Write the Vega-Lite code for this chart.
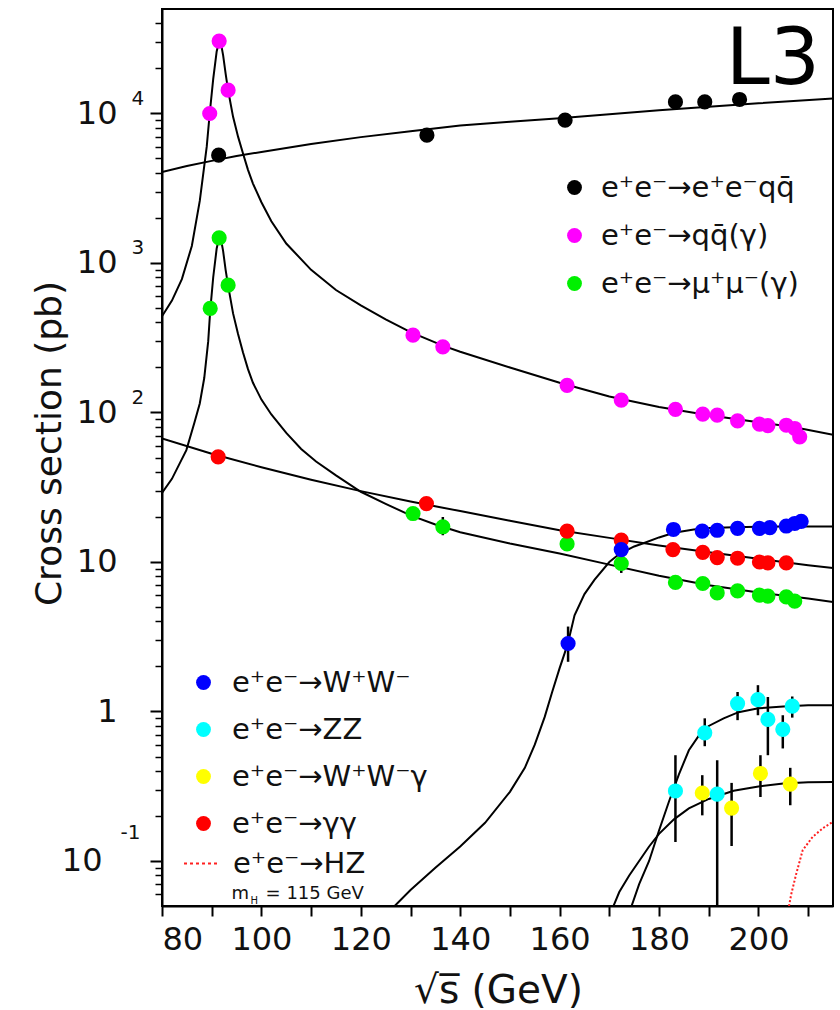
{
  "$schema": "https://vega.github.io/schema/vega-lite/v6.json",
  "width": 671,
  "height": 897,
  "autosize": {"type": "none"},
  "padding": {"left": 162, "top": 9, "right": 7, "bottom": 104},
  "background": "white",
  "config": {
    "font": "DejaVu Sans",
    "view": {"stroke": "black", "strokeWidth": 2},
    "axis": {"grid": false, "domainColor": "black", "domainWidth": 2, "tickColor": "black", "labelColor": "#111", "titleColor": "#111", "labelFont": "DejaVu Sans", "titleFont": "DejaVu Sans", "titleFontWeight": "normal"},
    "legend": {"labelFont": "DejaVu Sans", "labelFontSize": 29, "labelColor": "#111", "labelLimit": 500, "padding": 0}
  },
  "datasets": {
    "curves": [
      {"s":"ee","x":80,"y":4060},{"s":"ee","x":85,"y":4450},{"s":"ee","x":90,"y":4820},{"s":"ee","x":95,"y":5200},{"s":"ee","x":100,"y":5530},{"s":"ee","x":110,"y":6250},{"s":"ee","x":120,"y":6950},{"s":"ee","x":130,"y":7600},{"s":"ee","x":140,"y":8300},{"s":"ee","x":150,"y":8800},{"s":"ee","x":160,"y":9300},{"s":"ee","x":170,"y":9900},{"s":"ee","x":180,"y":10500},{"s":"ee","x":190,"y":11100},{"s":"ee","x":200,"y":11700},{"s":"ee","x":215,"y":12600},
      {"s":"qq","x":80,"y":440},{"s":"qq","x":82,"y":560},{"s":"qq","x":84,"y":780},{"s":"qq","x":86,"y":1300},{"s":"qq","x":87.6,"y":2600},{"s":"qq","x":89,"y":6000},{"s":"qq","x":89.6,"y":10000},{"s":"qq","x":90.3,"y":17000},{"s":"qq","x":91,"y":26000},{"s":"qq","x":91.5,"y":30500},{"s":"qq","x":91.9,"y":29000},{"s":"qq","x":92.3,"y":24500},{"s":"qq","x":92.8,"y":18500},{"s":"qq","x":93.3,"y":14300},{"s":"qq","x":94.3,"y":9500},{"s":"qq","x":95.3,"y":7000},{"s":"qq","x":96.3,"y":5400},{"s":"qq","x":97.3,"y":4200},{"s":"qq","x":98.3,"y":3400},{"s":"qq","x":100,"y":2550},{"s":"qq","x":102,"y":1900},{"s":"qq","x":105,"y":1350},{"s":"qq","x":110,"y":900},{"s":"qq","x":115,"y":660},{"s":"qq","x":120,"y":520},{"s":"qq","x":125,"y":420},{"s":"qq","x":130,"y":345},{"s":"qq","x":136.5,"y":280},{"s":"qq","x":140,"y":255},{"s":"qq","x":150,"y":200},{"s":"qq","x":160,"y":158},{"s":"qq","x":170,"y":128},{"s":"qq","x":180,"y":109},{"s":"qq","x":190,"y":96},{"s":"qq","x":200,"y":86},{"s":"qq","x":207,"y":80},{"s":"qq","x":215,"y":71},
      {"s":"mm","x":80,"y":29},{"s":"mm","x":82,"y":36},{"s":"mm","x":84.9,"y":56},{"s":"mm","x":86.5,"y":85},{"s":"mm","x":87.6,"y":115},{"s":"mm","x":88.5,"y":170},{"s":"mm","x":89.3,"y":300},{"s":"mm","x":89.7,"y":480},{"s":"mm","x":90.3,"y":800},{"s":"mm","x":91,"y":1250},{"s":"mm","x":91.5,"y":1480},{"s":"mm","x":91.9,"y":1420},{"s":"mm","x":92.3,"y":1200},{"s":"mm","x":92.8,"y":900},{"s":"mm","x":93.3,"y":705},{"s":"mm","x":94.3,"y":460},{"s":"mm","x":95.3,"y":335},{"s":"mm","x":96.3,"y":252},{"s":"mm","x":97.3,"y":195},{"s":"mm","x":98.3,"y":158},{"s":"mm","x":100,"y":122},{"s":"mm","x":102,"y":97},{"s":"mm","x":105,"y":73},{"s":"mm","x":108,"y":57},{"s":"mm","x":111,"y":47},{"s":"mm","x":115,"y":38},{"s":"mm","x":120,"y":29.5},{"s":"mm","x":125,"y":24.5},{"s":"mm","x":130,"y":20.5},{"s":"mm","x":135,"y":17.8},{"s":"mm","x":140,"y":15.8},{"s":"mm","x":150,"y":13.3},{"s":"mm","x":160,"y":11.4},{"s":"mm","x":170,"y":9.6},{"s":"mm","x":180,"y":8.1},{"s":"mm","x":190,"y":7.0},{"s":"mm","x":200,"y":6.25},{"s":"mm","x":210,"y":5.7},{"s":"mm","x":215,"y":5.4},
      {"s":"gg","x":80,"y":67},{"s":"gg","x":90,"y":53},{"s":"gg","x":100,"y":43},{"s":"gg","x":110,"y":35.5},{"s":"gg","x":120,"y":29.8},{"s":"gg","x":130,"y":25.4},{"s":"gg","x":140,"y":21.9},{"s":"gg","x":150,"y":18.9},{"s":"gg","x":160,"y":16.3},{"s":"gg","x":170,"y":14.5},{"s":"gg","x":180,"y":12.9},{"s":"gg","x":190,"y":11.6},{"s":"gg","x":200,"y":10.5},{"s":"gg","x":210,"y":9.5},{"s":"gg","x":215,"y":9.1},
      {"s":"WW","x":126,"y":0.047},{"s":"WW","x":130,"y":0.064},{"s":"WW","x":135,"y":0.09},{"s":"WW","x":140,"y":0.125},{"s":"WW","x":145,"y":0.18},{"s":"WW","x":150,"y":0.29},{"s":"WW","x":153,"y":0.42},{"s":"WW","x":155,"y":0.6},{"s":"WW","x":157,"y":0.92},{"s":"WW","x":158.5,"y":1.35},{"s":"WW","x":160,"y":1.95},{"s":"WW","x":161,"y":2.45},{"s":"WW","x":161.7,"y":2.9},{"s":"WW","x":163,"y":4.4},{"s":"WW","x":165,"y":6.1},{"s":"WW","x":167,"y":7.6},{"s":"WW","x":170,"y":10.0},{"s":"WW","x":172,"y":11.3},{"s":"WW","x":175,"y":12.7},{"s":"WW","x":177,"y":13.4},{"s":"WW","x":180,"y":14.6},{"s":"WW","x":183,"y":15.7},{"s":"WW","x":187,"y":16.5},{"s":"WW","x":190,"y":16.9},{"s":"WW","x":195,"y":17.1},{"s":"WW","x":200,"y":17.2},{"s":"WW","x":205,"y":17.3},{"s":"WW","x":215,"y":17.3},
      {"s":"ZZ","x":174,"y":0.045},{"s":"ZZ","x":176,"y":0.07},{"s":"ZZ","x":178,"y":0.1},{"s":"ZZ","x":180,"y":0.16},{"s":"ZZ","x":182,"y":0.25},{"s":"ZZ","x":184,"y":0.38},{"s":"ZZ","x":186,"y":0.55},{"s":"ZZ","x":188,"y":0.69},{"s":"ZZ","x":190,"y":0.8},{"s":"ZZ","x":193,"y":0.9},{"s":"ZZ","x":196,"y":0.99},{"s":"ZZ","x":200,"y":1.05},{"s":"ZZ","x":205,"y":1.08},{"s":"ZZ","x":210,"y":1.1},{"s":"ZZ","x":215,"y":1.1},
      {"s":"WWg","x":170.5,"y":0.047},{"s":"WWg","x":172,"y":0.062},{"s":"WWg","x":174,"y":0.08},{"s":"WWg","x":176,"y":0.1},{"s":"WWg","x":178,"y":0.125},{"s":"WWg","x":180,"y":0.152},{"s":"WWg","x":183,"y":0.19},{"s":"WWg","x":186,"y":0.225},{"s":"WWg","x":190,"y":0.26},{"s":"WWg","x":195,"y":0.295},{"s":"WWg","x":200,"y":0.315},{"s":"WWg","x":205,"y":0.33},{"s":"WWg","x":210,"y":0.336},{"s":"WWg","x":215,"y":0.338},
      {"s":"HZ","x":206,"y":0.047},{"s":"HZ","x":206.6,"y":0.06},{"s":"HZ","x":207.6,"y":0.082},{"s":"HZ","x":208.9,"y":0.118},{"s":"HZ","x":210.9,"y":0.145},{"s":"HZ","x":213,"y":0.166},{"s":"HZ","x":215,"y":0.183}
    ],
    "pts": [
      {"p":"ee","g":"A","x":91.4,"y":5260},{"p":"ee","g":"A","x":133.3,"y":7160},{"p":"ee","g":"A","x":161.1,"y":9020},{"p":"ee","g":"A","x":183.3,"y":11960},{"p":"ee","g":"A","x":189.2,"y":11960},{"p":"ee","g":"A","x":196.2,"y":12410},
      {"p":"qq","g":"A","x":89.6,"y":10000},{"p":"qq","g":"A","x":91.5,"y":30500},{"p":"qq","g":"A","x":93.3,"y":14330},{"p":"qq","g":"A","x":130.5,"y":329},{"p":"qq","g":"A","x":136.5,"y":275},{"p":"qq","g":"A","x":161.5,"y":152},{"p":"qq","g":"A","x":172.4,"y":121},{"p":"qq","g":"A","x":183.3,"y":105},{"p":"qq","g":"A","x":188.8,"y":97.5},{"p":"qq","g":"A","x":191.7,"y":96},{"p":"qq","g":"A","x":195.8,"y":87.9},{"p":"qq","g":"A","x":200.2,"y":83.6},{"p":"qq","g":"A","x":201.9,"y":81.8},{"p":"qq","g":"A","x":205.6,"y":82.2},{"p":"qq","g":"A","x":207.3,"y":78.2},{"p":"qq","g":"A","x":208.3,"y":68.7},
      {"p":"mm","g":"A","x":89.7,"y":497},{"p":"mm","g":"A","x":91.5,"y":1473},{"p":"mm","g":"A","x":93.3,"y":711},{"p":"mm","g":"A","x":130.5,"y":21.1},{"p":"mm","g":"A","x":136.5,"y":17.2,"lo":15.1,"hi":20.0},{"p":"mm","g":"A","x":161.5,"y":13.2},{"p":"mm","g":"A","x":172.4,"y":9.77,"lo":8.45,"hi":11.3},{"p":"mm","g":"A","x":183.3,"y":7.3},{"p":"mm","g":"A","x":188.8,"y":7.18},{"p":"mm","g":"A","x":191.7,"y":6.21},{"p":"mm","g":"A","x":195.8,"y":6.41},{"p":"mm","g":"A","x":200.2,"y":6.0},{"p":"mm","g":"A","x":201.9,"y":5.91},{"p":"mm","g":"A","x":205.6,"y":5.84},{"p":"mm","g":"A","x":207.3,"y":5.47},
      {"p":"gg","g":"B","x":91.3,"y":50.5},{"p":"gg","g":"B","x":133.2,"y":24.6},{"p":"gg","g":"B","x":161.5,"y":16.1},{"p":"gg","g":"B","x":172.4,"y":14.0},{"p":"gg","g":"B","x":182.8,"y":12.1},{"p":"gg","g":"B","x":188.8,"y":11.6},{"p":"gg","g":"B","x":191.7,"y":10.7},{"p":"gg","g":"B","x":195.8,"y":10.6},{"p":"gg","g":"B","x":200.2,"y":10.0},{"p":"gg","g":"B","x":201.9,"y":9.86},{"p":"gg","g":"B","x":205.6,"y":9.86},
      {"p":"WWg","g":"B","x":188.7,"y":0.285,"lo":0.202,"hi":0.375},{"p":"WWg","g":"B","x":194.6,"y":0.226,"lo":0.126,"hi":0.333},{"p":"WWg","g":"B","x":200.4,"y":0.385,"lo":0.268,"hi":0.51},{"p":"WWg","g":"B","x":206.4,"y":0.327,"lo":0.236,"hi":0.42},
      {"p":"ZZ","g":"B","x":183.3,"y":0.294,"lo":0.134,"hi":0.51},{"p":"ZZ","g":"B","x":189.2,"y":0.72,"lo":0.586,"hi":0.9},{"p":"ZZ","g":"B","x":191.7,"y":0.28,"lo":0.02,"hi":0.472},{"p":"ZZ","g":"B","x":195.8,"y":1.13,"lo":0.875,"hi":1.35},{"p":"ZZ","g":"B","x":199.9,"y":1.2,"lo":0.944,"hi":1.5},{"p":"ZZ","g":"B","x":201.9,"y":0.885,"lo":0.51,"hi":1.25},{"p":"ZZ","g":"B","x":204.9,"y":0.76,"lo":0.566,"hi":0.944},{"p":"ZZ","g":"B","x":206.8,"y":1.085,"lo":0.91,"hi":1.26},
      {"p":"WW","g":"B","x":161.7,"y":2.85,"lo":2.15,"hi":3.7},{"p":"WW","g":"B","x":172.4,"y":12.1},{"p":"WW","g":"B","x":182.9,"y":16.5},{"p":"WW","g":"B","x":188.7,"y":16.1},{"p":"WW","g":"B","x":191.7,"y":16.3},{"p":"WW","g":"B","x":195.8,"y":16.8},{"p":"WW","g":"B","x":200.2,"y":16.8},{"p":"WW","g":"B","x":202.3,"y":17.0},{"p":"WW","g":"B","x":205.6,"y":17.4},{"p":"WW","g":"B","x":207.3,"y":18.1},{"p":"WW","g":"B","x":208.6,"y":18.7}
    ]
  },
  "resolve": {"scale": {"color": "independent"}, "axis": {"y": "independent"}},
  "layer": [
    {
      "data": {"name": "curves"},
      "transform": [{"filter": "datum.s != 'HZ'"}],
      "mark": {"type": "line", "color": "black", "strokeWidth": 2, "clip": true},
      "encoding": {
        "x": {"field": "x", "type": "quantitative", "scale": {"domain": [80, 215], "nice": false, "zero": false},
          "axis": {"values": [80,90,100,110,120,130,140,150,160,170,180,190,200,210], "labelExpr": "datum.value % 20 === 0 ? datum.label : ''", "tickSize": 10, "tickWidth": 2, "labelFontSize": 32, "labelPadding": 8, "labelOverlap": false,
            "title": "\u221as\u0305 (GeV)", "titleFontSize": 39, "titleX": 336, "titleY": 96, "titleAlign": "center", "titleBaseline": "alphabetic"}},
        "y": {"field": "y", "type": "quantitative", "scale": {"type": "log", "domain": [0.05, 50000], "nice": false},
          "axis": {"orient": "left", "values": [0.1, 1, 10, 100, 1000, 10000], "labelExpr": "datum.value == 1 ? '1' : '10'", "tickSize": 12, "tickWidth": 2, "labelFontSize": 32, "labelBaseline": "middle", "labelOverlap": false,
            "labelPadding": {"condition": {"test": "datum.value < 0.5", "value": 48}, "value": 33},
            "title": "Cross section (pb)", "titleFontSize": 36, "titleX": -102, "titleY": 434, "titleAngle": -90, "titleBaseline": "alphabetic", "titleAlign": "center"}},
        "detail": {"field": "s"}
      }
    },
    {
      "data": {"name": "curves"},
      "transform": [{"filter": "datum.s == 'HZ'"}],
      "mark": {"type": "line", "strokeWidth": 2, "strokeDash": [2, 2], "clip": true},
      "encoding": {
        "x": {"field": "x", "type": "quantitative", "scale": {"domain": [80, 215], "nice": false, "zero": false}},
        "y": {"field": "y", "type": "quantitative", "scale": {"type": "log", "domain": [0.05, 50000], "nice": false},
          "axis": {"orient": "left", "values": [0.06,0.07,0.08,0.09,0.2,0.3,0.4,0.5,0.6,0.7,0.8,0.9,2,3,4,5,6,7,8,9,20,30,40,50,60,70,80,90,200,300,400,500,600,700,800,900,2000,3000,4000,5000,6000,7000,8000,9000,20000,30000,40000], "labels": false, "domain": false, "tickSize": 7, "tickWidth": 1.5, "title": null}},
        "color": {"field": "s", "type": "nominal", "scale": {"domain": ["HZ"], "range": ["#ff2020"]},
          "legend": {"orient": "none", "legendX": 21, "legendY": 836, "title": null, "symbolType": "stroke", "symbolSize": 1225, "symbolDash": [3, 3], "symbolStrokeWidth": 2, "labelOffset": 13, "labelExpr": "'e\u207ae\u207b\u2192HZ'"}}
      }
    },
    {
      "data": {"name": "pts"},
      "transform": [{"filter": "isValid(datum.lo)"}],
      "mark": {"type": "rule", "color": "black", "strokeWidth": 2.5, "clip": true},
      "encoding": {
        "x": {"field": "x", "type": "quantitative", "scale": {"domain": [80, 215], "nice": false, "zero": false}},
        "y": {"field": "lo", "type": "quantitative", "scale": {"type": "log", "domain": [0.05, 50000], "nice": false},
          "axis": {"orient": "left", "values": [0.1, 100, 1000, 10000], "labelExpr": "datum.value < 0.5 ? '-1' : datum.value < 500 ? '2' : datum.value < 5000 ? '3' : '4'", "ticks": false, "tickSize": 0, "domain": false, "labelAlign": "left", "labelBaseline": "middle", "labelFontSize": 20, "labelOverlap": false,
            "labelPadding": {"condition": {"test": "datum.value < 0.5", "value": 42}, "value": 31},
            "labelOffset": {"condition": {"test": "datum.value < 0.5", "value": -28}, "value": -15},
            "title": null}},
        "y2": {"field": "hi"}
      }
    },
    {
      "data": {"name": "pts"},
      "transform": [{"filter": "datum.g == 'A'"}],
      "mark": {"type": "circle", "size": 230, "opacity": 1, "clip": true},
      "encoding": {
        "x": {"field": "x", "type": "quantitative", "scale": {"domain": [80, 215], "nice": false, "zero": false}},
        "y": {"field": "y", "type": "quantitative", "scale": {"type": "log", "domain": [0.05, 50000], "nice": false}, "axis": null},
        "color": {"field": "p", "type": "nominal", "scale": {"domain": ["ee", "qq", "mm"], "range": ["#000000", "#ff00ff", "#00f000"]},
          "legend": {"orient": "none", "legendX": 398, "legendY": 164, "title": null, "symbolType": "circle", "symbolSize": 220, "symbolStrokeWidth": 0, "labelOffset": 12, "rowPadding": 18,
            "labelExpr": "datum.label == 'ee' ? 'e\u207ae\u207b\u2192e\u207ae\u207bqq\u0304' : datum.label == 'qq' ? 'e\u207ae\u207b\u2192qq\u0304(\u03b3)' : 'e\u207ae\u207b\u2192\u03bc\u207a\u03bc\u207b(\u03b3)'"}}
      }
    },
    {
      "data": {"name": "pts"},
      "transform": [{"filter": "datum.g == 'B'"}],
      "mark": {"type": "circle", "size": 230, "opacity": 1, "clip": true},
      "encoding": {
        "x": {"field": "x", "type": "quantitative", "scale": {"domain": [80, 215], "nice": false, "zero": false}},
        "y": {"field": "y", "type": "quantitative", "scale": {"type": "log", "domain": [0.05, 50000], "nice": false}, "axis": null},
        "color": {"field": "p", "type": "nominal", "scale": {"domain": ["WW", "ZZ", "WWg", "gg"], "range": ["#0000ff", "#00ffff", "#ffff00", "#ff0000"]},
          "legend": {"orient": "none", "legendX": 27, "legendY": 659, "title": null, "symbolType": "circle", "symbolSize": 220, "symbolStrokeWidth": 0, "labelOffset": 14, "rowPadding": 17,
            "labelExpr": "datum.label == 'WW' ? 'e\u207ae\u207b\u2192W\u207aW\u207b' : datum.label == 'ZZ' ? 'e\u207ae\u207b\u2192ZZ' : datum.label == 'WWg' ? 'e\u207ae\u207b\u2192W\u207aW\u207b\u03b3' : 'e\u207ae\u207b\u2192\u03b3\u03b3'"}}
      }
    },
    {
      "data": {"values": [{}]},
      "mark": {"type": "text", "text": "L3", "fontSize": 79, "align": "right", "baseline": "alphabetic", "color": "#000"},
      "encoding": {
        "x": {"datum": 212.4, "type": "quantitative", "scale": {"domain": [80, 215], "nice": false, "zero": false}},
        "y": {"datum": 15870, "type": "quantitative", "scale": {"type": "log", "domain": [0.05, 50000], "nice": false}, "axis": null}
      }
    },
    {
      "data": {"values": [{}]},
      "mark": {"type": "text", "text": "m", "fontSize": 18, "align": "left", "baseline": "alphabetic", "color": "#111"},
      "encoding": {
        "x": {"datum": 94.0, "type": "quantitative", "scale": {"domain": [80, 215], "nice": false, "zero": false}},
        "y": {"datum": 0.0553, "type": "quantitative", "scale": {"type": "log", "domain": [0.05, 50000], "nice": false}, "axis": null}
      }
    },
    {
      "data": {"values": [{}]},
      "mark": {"type": "text", "text": "H", "fontSize": 10, "align": "left", "baseline": "alphabetic", "dx": 19, "dy": 5, "color": "#111"},
      "encoding": {
        "x": {"datum": 94.0, "type": "quantitative", "scale": {"domain": [80, 215], "nice": false, "zero": false}},
        "y": {"datum": 0.0553, "type": "quantitative", "scale": {"type": "log", "domain": [0.05, 50000], "nice": false}, "axis": null}
      }
    },
    {
      "data": {"values": [{}]},
      "mark": {"type": "text", "text": "= 115 GeV", "fontSize": 18, "align": "left", "baseline": "alphabetic", "dx": 34, "color": "#111"},
      "encoding": {
        "x": {"datum": 94.0, "type": "quantitative", "scale": {"domain": [80, 215], "nice": false, "zero": false}},
        "y": {"datum": 0.0553, "type": "quantitative", "scale": {"type": "log", "domain": [0.05, 50000], "nice": false}, "axis": null}
      }
    }
  ]
}
